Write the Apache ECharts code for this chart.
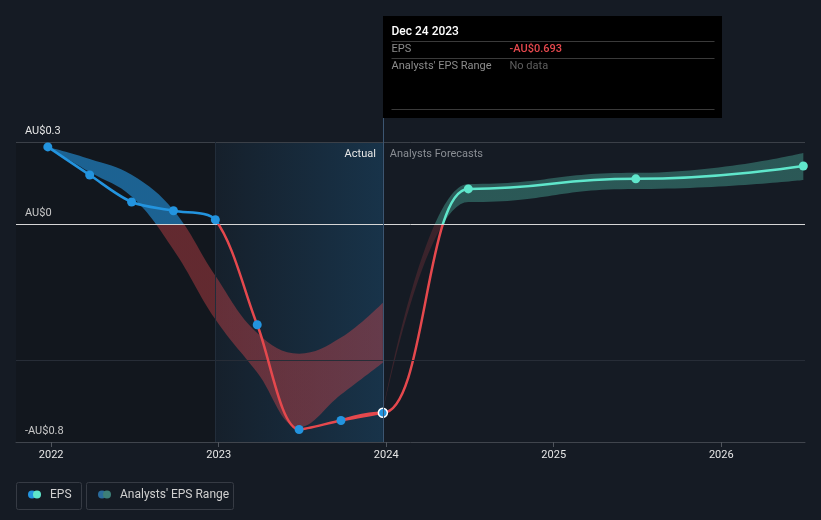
<!DOCTYPE html>
<html>
<head>
<meta charset="utf-8">
<script src="https://cdn.jsdelivr.net/npm/echarts@6/dist/echarts.min.js"></script>
<style>
  html, body { margin: 0; padding: 0; background: #151b24; }
  #chartEps { width: 821px; height: 520px; }
</style>
</head>
<body>
<div id="chartEps"></div>
<script>
(function(){

  'use strict'

  /********************* DATA *********************/
  var actualYears = [2021.98, 2022.23, 2022.48, 2022.73, 2022.98, 2023.23, 2023.48, 2023.73, 2023.98];
  var actualEps = [0.282, 0.179, 0.080, 0.048, 0.015, -0.370, -0.754, -0.721, -0.693];

  // analysts' range for the past quarters
  var pastRangeLow = [0.282, 0.190, 0.100, -0.095, -0.350, -0.545, -0.746, -0.626, -0.509];
  var pastRangeHigh = [0.282, 0.238, 0.180, 0.050, -0.190, -0.400, -0.476, -0.417, -0.289];

  var forecastYears = [2024.49, 2025.49, 2026.49];
  var forecastEps = [0.128, 0.165, 0.212];
  var forecastLow = [0.080, 0.128, 0.161];
  var forecastHigh = [0.146, 0.187, 0.260];

  var yearTicks = [2022, 2023, 2024, 2025, 2026];
  var epsTicks = [0.3, 0, -0.8];

  var red = '#e5484d';
  var blue = '#2394df';
  var teal = '#5fe6cb';
  var font = 'Roboto, sans-serif';

  var lastIdx = actualYears.length - 1;
  var lastYear = actualYears[lastIdx];
  var lastEps = actualEps[lastIdx];

  function pairs(xs, ys) {
    return xs.map(function(x, i) { return [x, ys[i]]; });
  }
  // value first so the stack runs on the y dimension (x is a value axis too)
  function bandRows(xs, ys) {
    return xs.map(function(x, i) { return [ys[i], x]; });
  }
  function spread(lo, hi) {
    return lo.map(function(v, i) { return +(hi[i] - v).toFixed(3); });
  }
  function money(v) {
    return (v < 0 ? '-AU$' : 'AU$') + Math.abs(v);
  }
  // sign based colouring, finite bounds so the gradient has real stops
  function signPieces(neg, pos) {
    return [{ gt: -10, lt: 0, color: neg }, { gte: 0, lt: 10, color: pos }];
  }

  // forecast band starts from the last reported value
  var fcBandYears = [lastYear].concat(forecastYears);
  var fcBandLow = [lastEps].concat(forecastLow);
  var fcBandHigh = [lastEps].concat(forecastHigh);

  // forecast line picks up from the last two reported quarters so the bend is flat there
  var fcLine = pairs(actualYears.slice(-2), actualEps.slice(-2)).concat(pairs(forecastYears, forecastEps));

  var chart = echarts.init(document.getElementById('chartEps'));

  var actualPoints = pairs(actualYears, actualEps);
  actualPoints[lastIdx] = {
    value: actualPoints[lastIdx],
    itemStyle: { borderColor: '#fff', borderWidth: 1.5 }
  };

  var bandBase = {
    type: 'line',
    stackStrategy: 'all',
    smooth: 0.4,
    symbol: 'none',
    encode: { x: 1, y: 0 }
  };

  var option = {
    backgroundColor: '#151b24',
    animation: false,
    grid: { top: 142, right: 16, bottom: 78, left: 16 },
    xAxis: {
      type: 'value',
      min: 2021.79,
      max: 2026.5,
      splitLine: { show: false },
      axisLine: { onZero: false, lineStyle: { color: '#40454d' } },
      axisTick: { customValues: yearTicks, length: 5, lineStyle: { color: '#50555d' } },
      axisLabel: {
        customValues: yearTicks,
        formatter: function(v) { return String(Math.round(v)); },
        color: '#e6e6e6',
        fontSize: 11,
        fontFamily: font,
        margin: 8
      }
    },
    yAxis: {
      type: 'value',
      min: -0.8,
      max: 0.3,
      splitLine: { show: false },
      axisLine: { show: false },
      axisTick: { show: false },
      axisLabel: {
        customValues: epsTicks,
        inside: true,
        margin: 9,
        verticalAlign: 'bottom',
        padding: [0, 0, 5, 0],
        formatter: money,
        color: '#e6e6e6',
        fontSize: 11,
        fontFamily: font
      }
    },
    visualMap: [
      { type: 'piecewise', show: false, seriesIndex: 1, dimension: 0,
        pieces: signPieces('rgba(229,72,77,0.38)', 'rgba(35,148,223,0.6)') },
      { type: 'piecewise', show: false, seriesIndex: 3, dimension: 0,
        pieces: signPieces('rgba(229,72,77,0.18)', 'rgba(94,230,203,0.3)') },
      { type: 'piecewise', show: false, seriesIndex: 5, dimension: 1,
        pieces: signPieces(red, blue) },
      { type: 'piecewise', show: false, seriesIndex: 6, dimension: 1,
        pieces: signPieces(red, teal) }
    ],
    series: [
      Object.assign({}, bandBase, {
        // lower edge of past range, also carries background shading + section labels
        name: 'pastLow',
        z: 1,
        stack: 'past',
        lineStyle: { opacity: 0 },
        data: bandRows(actualYears, pastRangeLow),
        markArea: {
          silent: true,
          data: [
            [{ xAxis: 2021.79, itemStyle: { color: 'rgba(0,0,0,0.14)' } }, { xAxis: 2022.98 }],
            [{
              xAxis: 2022.98,
              name: 'Actual',
              itemStyle: {
                color: new echarts.graphic.LinearGradient(0, 0, 1, 0, [
                  { offset: 0, color: 'rgba(35,148,223,0.04)' },
                  { offset: 1, color: 'rgba(35,148,223,0.2)' }
                ])
              },
              label: { position: 'insideTopRight', color: '#e6e6e6', fontSize: 11, fontFamily: font, distance: 7 }
            }, { xAxis: lastYear }],
            [{
              xAxis: lastYear,
              name: 'Analysts Forecasts',
              itemStyle: { color: 'rgba(0,0,0,0)' },
              label: { position: 'insideTopLeft', color: '#8a8e94', fontSize: 11, fontFamily: font, distance: 7 }
            }, { xAxis: 2026.5 }]
          ]
        }
      }),
      Object.assign({}, bandBase, {
        name: 'pastRange',
        z: 2,
        stack: 'past',
        lineStyle: { width: 0, opacity: 0 },
        areaStyle: { opacity: 1 },
        data: bandRows(actualYears, spread(pastRangeLow, pastRangeHigh))
      }),
      Object.assign({}, bandBase, {
        name: 'forecastLow',
        z: 1,
        stack: 'fc',
        smooth: 0.5,
        smoothMonotone: 'x',
        lineStyle: { opacity: 0 },
        data: bandRows(fcBandYears, fcBandLow)
      }),
      Object.assign({}, bandBase, {
        name: "Analysts' EPS Range",
        z: 2,
        stack: 'fc',
        smooth: 0.5,
        smoothMonotone: 'x',
        lineStyle: { width: 0, opacity: 0 },
        areaStyle: { opacity: 1 },
        data: bandRows(fcBandYears, spread(fcBandLow, fcBandHigh))
      }),
      {
        // reference lines
        name: 'rules',
        type: 'line',
        z: 3,
        data: [],
        markLine: {
          silent: true,
          symbol: 'none',
          label: { show: false },
          lineStyle: { type: 'solid', width: 1 },
          data: [
            { yAxis: 0.3, lineStyle: { color: '#3b4048' } },
            { yAxis: -0.5, lineStyle: { color: '#272d37' } },
            { xAxis: 2022.98, lineStyle: { color: '#222d3a' } },
            { yAxis: 0, lineStyle: { color: '#d6d6d6' } }
          ]
        }
      },
      {
        name: 'EPS',
        type: 'line',
        z: 5,
        smooth: 0.3,
        symbol: 'none',
        lineStyle: { width: 2.5 },
        data: pairs(actualYears, actualEps)
      },
      {
        name: 'EPS forecast',
        type: 'line',
        z: 4,
        smooth: 0.5,
        smoothMonotone: 'x',
        symbol: 'none',
        lineStyle: { width: 2.5 },
        data: fcLine
      },
      {
        name: 'EPS points',
        type: 'scatter',
        z: 6,
        symbolSize: 9,
        itemStyle: { color: blue, opacity: 1 },
        data: actualPoints
      },
      {
        name: 'forecast points',
        type: 'scatter',
        z: 6,
        symbolSize: 9,
        itemStyle: { color: teal, opacity: 1 },
        data: pairs(forecastYears, forecastEps)
      }
    ]
  };

  chart.setOption(option);

  /******************** TOOLTIP + LEGEND ********************/
  var top = chart.convertToPixel({ gridIndex: 0 }, [lastYear, 0.3]);
  var bottom = chart.convertToPixel({ gridIndex: 0 }, [lastYear, -0.8]);
  var tx = Math.round(top[0]) + 0.5;
  var tipTop = 16, tipBottom = 118, tipW = 339;

  function txt(text, x, y, color, size, weight) {
    return {
      type: 'text', silent: true, z: 100,
      style: { text: text, x: x, y: y, fill: color, fontSize: size, fontFamily: font,
               fontWeight: weight || 'normal', verticalAlign: 'middle' }
    };
  }
  function rule(x1, x2, y, color) {
    return { type: 'line', silent: true, z: 100,
             shape: { x1: x1, y1: y, x2: x2, y2: y }, style: { stroke: color, lineWidth: 1 } };
  }
  function dot(x, y, color) {
    return { type: 'circle', silent: true, z: 101, shape: { cx: x, cy: y, r: 4 }, style: { fill: color } };
  }

  chart.setOption({
    graphic: [
      { type: 'line', silent: true, z: 50,
        shape: { x1: tx, y1: tipBottom, x2: tx, y2: bottom[1] },
        style: { stroke: '#3c5672', lineWidth: 1 } },
      { type: 'rect', silent: true, z: 99,
        shape: { x: tx - 0.5, y: tipTop, width: tipW, height: tipBottom - tipTop },
        style: { fill: '#000' } },
      txt('Dec 24 2023', tx + 8, 32, '#ffffff', 12, 500),
      rule(tx + 8, tx + tipW - 8, 41.5, '#3a3a3a'),
      txt('EPS', tx + 8, 49.5, '#8c8c8c', 11),
      txt(money(lastEps), tx + 126, 49.5, red, 11, 500),
      rule(tx + 8, tx + tipW - 8, 58.5, '#3a3a3a'),
      txt("Analysts' EPS Range", tx + 8, 66.5, '#8c8c8c', 11),
      txt('No data', tx + 126, 66.5, '#5f5f5f', 11),
      rule(tx + 8, tx + tipW - 8, 109.5, '#3a3a3a'),

      { type: 'rect', silent: true, z: 99,
        shape: { x: 16.5, y: 482.5, width: 65, height: 27, r: 2 },
        style: { fill: 'none', stroke: '#363b44', lineWidth: 1 } },
      dot(32, 494.5, blue),
      dot(37, 494.5, teal),
      txt('EPS', 50, 495, '#d0d0d0', 12),
      { type: 'rect', silent: true, z: 99,
        shape: { x: 86.5, y: 482.5, width: 147, height: 27, r: 2 },
        style: { fill: 'none', stroke: '#363b44', lineWidth: 1 } },
      dot(102, 494.5, '#2a6b9c'),
      dot(107, 494.5, '#3d7f78'),
      txt("Analysts' EPS Range", 120, 495, '#d0d0d0', 12)
    ]
  });

})();
</script>
</body>
</html>
